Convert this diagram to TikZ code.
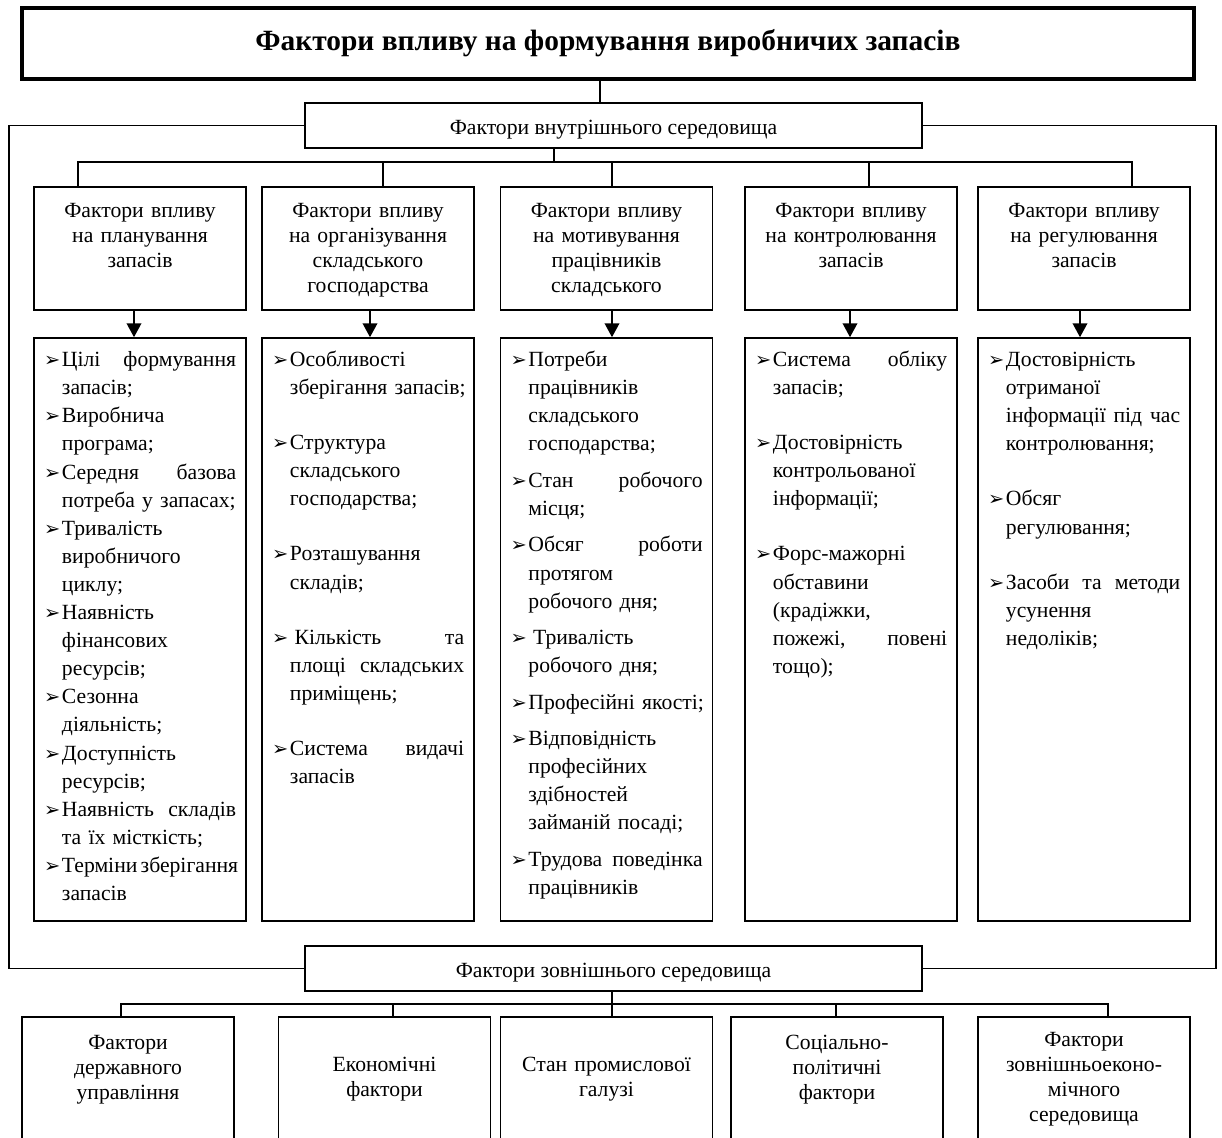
\documentclass[tikz,border=0pt]{standalone}
\usepackage{fontspec}
\setmainfont{Liberation Serif}
\newfontfamily\symf{DejaVu Sans}
\usetikzlibrary{arrows.meta,calc}

\newlength\lw
\setlength\lw{112.5pt}
\newcommand\tip{\makebox[11.6pt][l]{{\symf\fontsize{12.5pt}{12.5pt}\selectfont ➢}}}
\newcommand\jbox[1]{\hbox to\lw{\spaceskip=.25em plus 1fil minus .1em\relax#1}}
\newcommand\itemr[1]{\tip\mbox{#1}}
\newcommand\itemj[1]{\tip\jbox{#1}}
\newcommand\contr[1]{\hspace*{11.6pt}\mbox{#1}}
\newcommand\contj[1]{\hspace*{11.6pt}\jbox{#1}}

\tikzset{
  box/.style={draw, line width=1pt, inner sep=3pt, font=\fontsize{14pt}{16.1pt}\selectfont},
  titlebox/.style={draw, line width=2pt, minimum width=757pt, minimum height=45.9pt,
    font=\fontsize{19pt}{21pt}\selectfont\bfseries},
  envbox/.style={box, minimum width=398.5pt, minimum height=29.1pt, text height=14pt, text depth=1.8pt},
  headbox/.style={box, minimum width=136.9pt, text width=130pt, align=center,
    text height=17pt, text depth=56.4pt},
  listbox/.style={box, inner xsep=6.4pt, minimum width=136.9pt, text width=124pt, align=left,
    text height=15.5pt, text depth=355.1pt, font=\fontsize{14pt}{18.15pt}\selectfont},
  footbox/.style={box, minimum width=136.9pt, text width=130pt, align=center, minimum height=80.7pt},
  line/.style={line width=1pt},
  arr/.style={line width=1pt, -{Triangle[length=9pt,width=9.5pt]}},
}

\begin{document}
\begin{tikzpicture}[x=0.6459pt, y=-0.6459pt]
      \clip (0,0) rectangle (1222,1138);

      % Заголовок і середовища
      \node[titlebox] (title) at (608,43.5) {Фактори впливу на формування виробничих запасів};
      \node[envbox] (in) at (613.5,125.5) {Фактори внутрішнього середовища};
      \node[envbox] (ex) at (613.5,968.5) {Фактори зовнішнього середовища};

      % Функції
      \node[headbox] (p1) at (140,248.5) {Фактори впливу\\на планування\\запасів};
      \node[headbox] (p2) at (368,248.5) {Фактори впливу\\на організування\\складського\\господарства};
      \node[headbox] (p3) at (606.5,248.5) {Фактори впливу\\на мотивування\\працівників\\складського};
      \node[headbox] (p4) at (851,248.5) {Фактори впливу\\на контролювання\\запасів};
      \node[headbox] (p5) at (1084,248.5) {Фактори впливу\\на регулювання\\запасів};

      % Переліки
      \node[listbox] (l1) at (140,629.5) {%
        \itemj{Цілі формування}\\
        \contr{запасів;}\\
        \itemr{Виробнича}\\
        \contr{програма;}\\
        \itemj{Середня базова}\\
        \contr{потреба у запасах;}\\
        \itemr{Тривалість}\\
        \contr{виробничого}\\
        \contr{циклу;}\\
        \itemr{Наявність}\\
        \contr{фінансових}\\
        \contr{ресурсів;}\\
        \itemr{Сезонна}\\
        \contr{діяльність;}\\
        \itemr{Доступність}\\
        \contr{ресурсів;}\\
        \itemj{Наявність складів}\\
        \contr{та їх місткість;}\\
        \itemj{Терміни зберігання}\\
        \contr{запасів}};
      \node[listbox] (l2) at (368,629.5) {%
        \itemr{Особливості}\\
        \contr{зберігання запасів;}\\[17.4pt]
        \itemr{Структура}\\
        \contr{складського}\\
        \contr{господарства;}\\[17.4pt]
        \itemr{Розташування}\\
        \contr{складів;}\\[17.4pt]
        \itemj{\hspace{3pt}Кількість та}\\
        \contj{площі складських}\\
        \contr{приміщень;}\\[17.4pt]
        \itemj{Система видачі}\\
        \contr{запасів}};
      \node[listbox] (l3) at (606.5,629.5) {%
        \itemr{Потреби}\\
        \contr{працівників}\\
        \contr{складського}\\
        \contr{господарства;}\\[5.4pt]
        \itemj{Стан робочого}\\
        \contr{місця;}\\[5.4pt]
        \itemj{Обсяг роботи}\\
        \contr{протягом}\\
        \contr{робочого дня;}\\[5.4pt]
        \itemr{\hspace{3pt}Тривалість}\\
        \contr{робочого дня;}\\[5.4pt]
        \itemr{Професійні якості;}\\[5.4pt]
        \itemr{Відповідність}\\
        \contr{професійних}\\
        \contr{здібностей}\\
        \contr{займаній посаді;}\\[5.4pt]
        \itemj{Трудова поведінка}\\
        \contr{працівників}};
      \node[listbox] (l4) at (851,629.5) {%
        \itemj{Система обліку}\\
        \contr{запасів;}\\[17.4pt]
        \itemr{Достовірність}\\
        \contr{контрольованої}\\
        \contr{інформації;}\\[17.4pt]
        \itemr{Форс-мажорні}\\
        \contr{обставини}\\
        \contr{(крадіжки,}\\
        \contj{пожежі, повені}\\
        \contr{тощо);}};
      \node[listbox] (l5) at (1084,629.5) {%
        \itemr{Достовірність}\\
        \contr{отриманої}\\
        \contj{інформації під час}\\
        \contr{контролювання;}\\[17.4pt]
        \itemr{Обсяг}\\
        \contr{регулювання;}\\[17.4pt]
        \itemj{Засоби та методи}\\
        \contr{усунення}\\
        \contr{недоліків;}};

      % Зовнішні фактори
      \node[footbox] (q1) at (128,1079.5) {Фактори\\державного\\управління\\~};
      \node[footbox] (q2) at (384.5,1079.5) {Економічні\\фактори};
      \node[footbox] (q3) at (606.5,1079.5) {Стан промислової\\галузі};
      \node[footbox] (q4) at (837,1079.5) {Соціально-\\політичні\\фактори\\~};
      \node[footbox] (q5) at (1084,1079.5) {Фактори\\зовнішньоеконо-\\мічного\\середовища};

      % Точки з'єднань
      \coordinate (tstem) at (600,0);
      \coordinate (ibus) at (554,162);
      \coordinate (d1) at (78,162);
      \coordinate (d2) at (383,162);
      \coordinate (d3) at (612,162);
      \coordinate (d4) at (869,162);
      \coordinate (d5) at (1132,162);
      \coordinate (encl) at (9,0);
      \coordinate (encr) at (1216,0);
      \coordinate (ebus) at (612,1004);
      \coordinate (e1) at (121,1004);
      \coordinate (e2) at (393,1004);
      \coordinate (e4) at (836,1004);
      \coordinate (e5) at (1108,1004);

      % Лінії
      \draw[line] (title.south -| tstem) -- (in.north -| tstem);
      \draw[line] (in.south -| ibus) -- (ibus);
      \draw[line] (d1 |- p1.north) -- (d1) -- (d5) -- (d5 |- p5.north);
      \draw[line] (d2) -- (d2 |- p2.north);
      \draw[line] (d3) -- (d3 |- p3.north);
      \draw[line] (d4) -- (d4 |- p4.north);

      \draw[line] (in.west) -- (in.west -| encl) -- (ex.west -| encl) -- (ex.west);
      \draw[line] (in.east) -- (in.east -| encr) -- (ex.east -| encr) -- (ex.east);

      \draw[line] (ex.south -| ebus) -- (ebus);
      \draw[line] (e1 |- q1.north) -- (e1) -- (e5) -- (e5 |- q5.north);
      \draw[line] (e2) -- (e2 |- q2.north);
      \draw[line] (ebus) -- (ebus |- q3.north);
      \draw[line] (e4) -- (e4 |- q4.north);

      % Стрілки
      \draw[arr] ($(p1.south)+(-6,0)$) -- ($(l1.north)+(-6,0)$);
      \draw[arr] ($(p2.south)+(2,0)$) -- ($(l2.north)+(2,0)$);
      \draw[arr] ($(p3.south)+(5.5,0)$) -- ($(l3.north)+(5.5,0)$);
      \draw[arr] ($(p4.south)+(-1,0)$) -- ($(l4.north)+(-1,0)$);
      \draw[arr] ($(p5.south)+(-4,0)$) -- ($(l5.north)+(-4,0)$);
    \end{tikzpicture}
\end{document}
